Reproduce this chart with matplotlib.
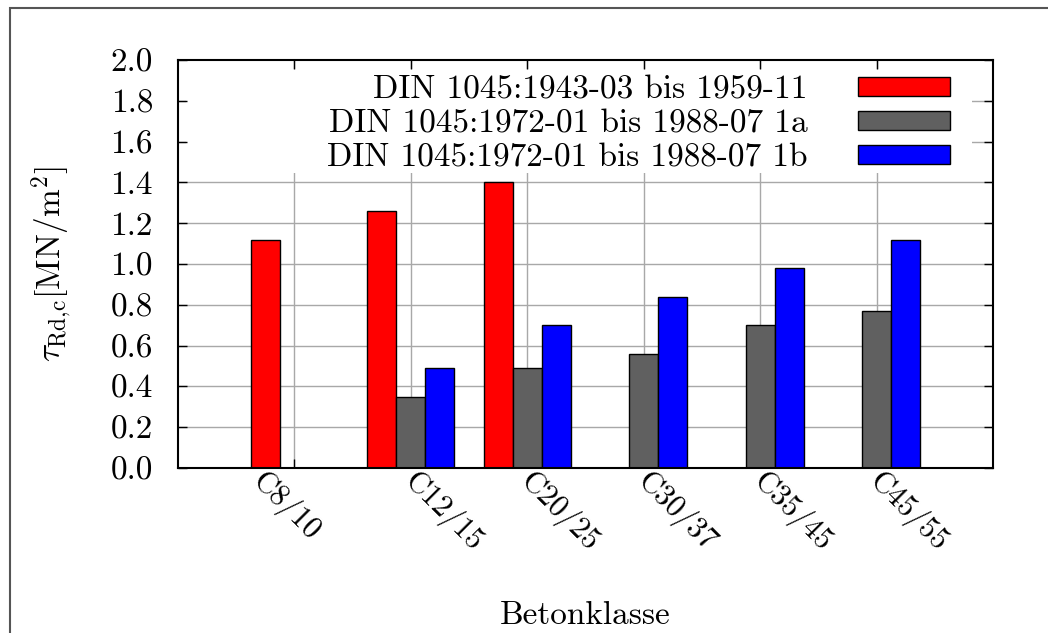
import numpy as np
import matplotlib
matplotlib.use("Agg")
import matplotlib.pyplot as plt
import matplotlib.transforms as mtransforms
from matplotlib.patches import Rectangle
from matplotlib.ticker import FormatStrFormatter

# data (nan = no bar)
klassen = ["C8/10", "C12/15", "C20/25", "C30/37", "C35/45", "C45/55"]
din_1943 = [1.12, 1.26, 1.40, np.nan, np.nan, np.nan]
din_1972_1a = [np.nan, 0.35, 0.49, 0.56, 0.70, 0.77]
din_1972_1b = [np.nan, 0.49, 0.70, 0.84, 0.98, 1.12]
labels = ["DIN 1045:1943-03 bis 1959-11",
          "DIN 1045:1972-01 bis 1988-07 1a",
          "DIN 1045:1972-01 bis 1988-07 1b"]
colors = ["#ff0000", "#606060", "#0000ff"]
yticks = [0.0, 0.2, 0.4, 0.6, 0.8, 1.0, 1.2, 1.4, 1.6, 1.8, 2.0]

plt.rcParams["font.family"] = "cmr10"
plt.rcParams["mathtext.fontset"] = "cm"
plt.rcParams["axes.formatter.use_mathtext"] = True

fs = 24
fig = plt.figure(figsize=(10.48, 6.33), dpi=100)
ax = fig.add_axes([0.1698, 0.2607, 0.7777, 0.6445])

# grey frame around the whole picture
fig.patches.append(Rectangle((10 / 1048, -0.1), 1.2, 1.1 - 8 / 633,
                             transform=fig.transFigure, fill=False,
                             edgecolor="#555555", linewidth=1.5))

x = np.arange(len(klassen))
w = 0.25
for i, (vals, lab, c) in enumerate(zip([din_1943, din_1972_1a, din_1972_1b], labels, colors)):
    ax.bar(x + (i - 1) * w, vals, w, color=c, edgecolor="black", linewidth=1.0,
           label=lab, zorder=3)

# grid, partly hidden by the opaque key
for yv in yticks[1:-1]:
    ax.axhline(yv, color="#a8a8a8", linewidth=1.0, zorder=0.5)
for xv in x:
    ax.axvline(xv, color="#a8a8a8", linewidth=1.0, zorder=0.5)
ax.add_patch(Rectangle((0.01, 0.723), 0.964, 0.255, transform=ax.transAxes,
                       facecolor="white", edgecolor="none", zorder=1))

ax.set_xlim(-1, 6)
ax.set_ylim(0, 2)
ax.set_yticks(yticks)
ax.yaxis.set_major_formatter(FormatStrFormatter("%.1f"))
ax.set_xticks(x)
ax.set_xticklabels([])

# rotated class labels under the ticks (first one sits further left in the original)
for i, name in enumerate(klassen):
    dx = -0.27 if i == 0 else 0.08
    tr = ax.get_xaxis_transform() + mtransforms.ScaledTranslation(dx, 0.02, fig.dpi_scale_trans)
    ax.text(x[i], 0, name, transform=tr, rotation=-45, rotation_mode="anchor",
            ha="left", va="top", fontsize=22)

ax.tick_params(direction="in", length=6.5, width=1.0, labelsize=fs,
               top=True, right=True, pad=18, colors="black")
for s in ax.spines.values():
    s.set_linewidth(1.5)
    s.set_zorder(4)

ax.set_ylabel(r"$\tau_{\mathrm{Rd{,}c}}[\mathrm{MN/m}^2]$", fontsize=fs)
ax.yaxis.set_label_coords(-0.128, 0.5)
ax.set_xlabel("Betonklasse", fontsize=fs)
ax.xaxis.set_label_coords(0.5, -0.325)

leg = ax.legend(loc="upper right", bbox_to_anchor=(0.947, 0.963), frameon=False,
                markerfirst=False, fontsize=fs, handlelength=2.76, handleheight=0.51,
                handletextpad=1.5, labelspacing=0.15, borderpad=0, borderaxespad=0)
leg.set_zorder(5)

fig.savefig("out.png", dpi=100)
